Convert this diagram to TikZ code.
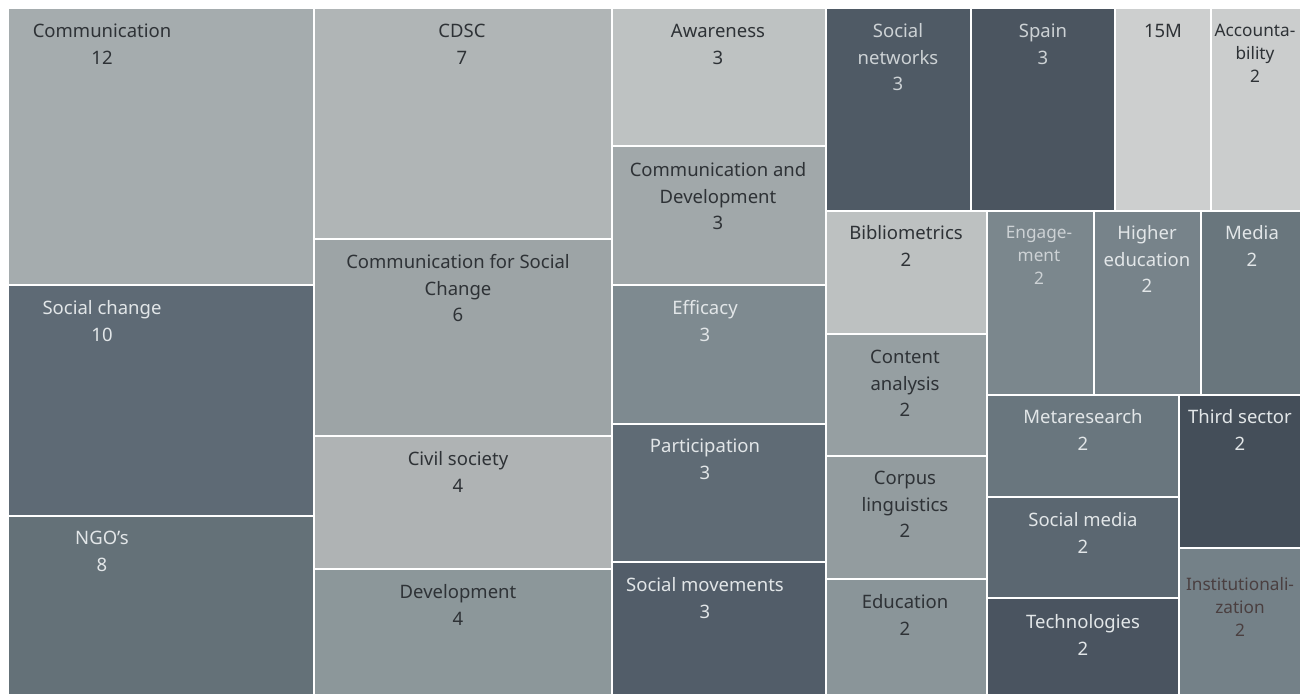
\documentclass[tikz,border=0pt]{standalone}
\usepackage{fontspec}
\setmainfont{Noto Sans}
\definecolor{cComm}{HTML}{A5ACAE}
\definecolor{cCDSC}{HTML}{B0B5B6}
\definecolor{cSoc}{HTML}{5E6A75}
\definecolor{cNGO}{HTML}{647178}
\definecolor{cCfSC}{HTML}{9DA4A6}
\definecolor{cCivil}{HTML}{AFB3B4}
\definecolor{cDev}{HTML}{8C979A}
\definecolor{cAware}{HTML}{BEC2C2}
\definecolor{cCD}{HTML}{A1A8AA}
\definecolor{cEff}{HTML}{7E8A90}
\definecolor{cPart}{HTML}{5F6B75}
\definecolor{cSmov}{HTML}{525D69}
\definecolor{cSnet}{HTML}{4F5A65}
\definecolor{cSpain}{HTML}{4B5560}
\definecolor{c15M}{HTML}{CDCFCF}
\definecolor{cAcc}{HTML}{CBCDCD}
\definecolor{cBib}{HTML}{BDC1C1}
\definecolor{cCont}{HTML}{969FA2}
\definecolor{cCorp}{HTML}{939C9F}
\definecolor{cEdu}{HTML}{8A9599}
\definecolor{cEng}{HTML}{7B878D}
\definecolor{cHigh}{HTML}{77838A}
\definecolor{cMedia}{HTML}{69767D}
\definecolor{cMeta}{HTML}{69767E}
\definecolor{cSmed}{HTML}{5B6771}
\definecolor{cTech}{HTML}{4A5460}
\definecolor{cThird}{HTML}{444E59}
\definecolor{cInst}{HTML}{748188}
\definecolor{txtdark}{HTML}{2E3236}
\definecolor{txtlight}{HTML}{E2E6E8}
\definecolor{txtdim}{HTML}{CDD2D5}
\definecolor{txtbrown}{HTML}{4A3F40}
\newcommand\fstrut[1]{\rule{0pt}{#1pt}}
\begin{document}
\begin{tikzpicture}[x=1pt,y=-1pt,
  cell/.style={draw=white,line width=1.6pt},
  lbl/.style={anchor=north,inner sep=0pt,align=center,font=\fontsize{18.5}{26.5}\selectfont},
  sm/.style={font=\fontsize{17.2}{23}\selectfont},
  dk/.style={text=txtdark},
  lt/.style={text=txtlight},
  dim/.style={text=txtdim}]
\useasboundingbox[fill=white] (0,0) rectangle (1307,695);
% column 1
\draw[cell,fill=cComm] (8,8) rectangle (314,285);
\node[lbl,dk] (comm) at (102,8) {\fstrut{29.5}Communication\\12};
\draw[cell,fill=cSoc] (8,285) rectangle (314,516);
\node[lbl,lt] (socchange) at (102,285) {\fstrut{29.5}Social change\\10};
\draw[cell,fill=cNGO] (8,516) rectangle (314,695);
\node[lbl,lt] (ngo) at (102,516) {\fstrut{28.5}NGO’s\\8};
% column 2
\draw[cell,fill=cCDSC] (314,8) rectangle (612,239);
\node[lbl,dk] (cdsc) at (462,8) {\fstrut{29.5}CDSC\\7};
\draw[cell,fill=cCfSC] (314,239) rectangle (612,436);
\node[lbl,dk] (cfsc) at (458,239) {\fstrut{29.5}Communication for Social\\Change\\6};
\draw[cell,fill=cCivil] (314,436) rectangle (612,569);
\node[lbl,dk] (civil) at (458,436) {\fstrut{29.5}Civil society\\4};
\draw[cell,fill=cDev] (314,569) rectangle (612,695);
\node[lbl,dk] (dev) at (458,569) {\fstrut{29.5}Development\\4};
% column 3
\draw[cell,fill=cAware] (612,8) rectangle (826,146);
\node[lbl,dk] (aware) at (718,8) {\fstrut{29.5}Awareness\\3};
\draw[cell,fill=cCD] (612,146) rectangle (826,285);
\node[lbl,dk] (commdev) at (718,146) {\fstrut{30.5}Communication and\\Development\\3};
\draw[cell,fill=cEff] (612,285) rectangle (826,424);
\node[lbl,lt] (eff) at (705,285) {\fstrut{29.5}Efficacy\\3};
\draw[cell,fill=cPart] (612,424) rectangle (826,562);
\node[lbl,lt] (part) at (705,424) {\fstrut{28.5}Participation\\3};
\draw[cell,fill=cSmov] (612,562) rectangle (826,695);
\node[lbl,lt] (smov) at (705,562) {\fstrut{29.5}Social movements\\3};
% column 4, top row
\draw[cell,fill=cSnet] (826,8) rectangle (971,211);
\node[lbl,dim] (snet) at (898,8) {\fstrut{29.5}Social\\networks\\3};
\draw[cell,fill=cSpain] (971,8) rectangle (1115,211);
\node[lbl,dim] (spain) at (1043,8) {\fstrut{29.5}Spain\\3};
\draw[cell,fill=c15M] (1115,8) rectangle (1211,211);
\node[lbl,dk] (m15) at (1163,8) {\fstrut{29.5}15M};
\draw[cell,fill=cAcc] (1211,8) rectangle (1301,211);
\node[lbl,sm,dk] (acc) at (1255,8) {\fstrut{28}Accounta-\\bility\\2};
% column 4, left sub-column
\draw[cell,fill=cBib] (826,211) rectangle (987,334);
\node[lbl,dk] (bib) at (906,211) {\fstrut{28.5}Bibliometrics\\2};
\draw[cell,fill=cCont] (826,334) rectangle (987,456);
\node[lbl,dk] (cont) at (905,334) {\fstrut{29.5}Content\\analysis\\2};
\draw[cell,fill=cCorp] (826,456) rectangle (987,579);
\node[lbl,dk] (corp) at (905,456) {\fstrut{28.5}Corpus\\linguistics\\2};
\draw[cell,fill=cEdu] (826,579) rectangle (987,695);
\node[lbl,dk] (edu) at (905,579) {\fstrut{29.5}Education\\2};
% column 4, right part
\draw[cell,fill=cEng] (987,211) rectangle (1094,395);
\node[lbl,sm,dim] (eng) at (1039,211) {\fstrut{27.5}Engage-\\ment\\2};
\draw[cell,fill=cHigh] (1094,211) rectangle (1201,395);
\node[lbl,lt] (high) at (1147,211) {\fstrut{28.5}Higher\\education\\2};
\draw[cell,fill=cMedia] (1201,211) rectangle (1301,395);
\node[lbl,lt] (media) at (1252,211) {\fstrut{28.5}Media\\2};
\draw[cell,fill=cMeta] (987,395) rectangle (1179,497);
\node[lbl,lt] (meta) at (1083,395) {\fstrut{28.5}Metaresearch\\2};
\draw[cell,fill=cSmed] (987,497) rectangle (1179,598);
\node[lbl,lt] (smed) at (1083,497) {\fstrut{29.5}Social media\\2};
\draw[cell,fill=cTech] (987,598) rectangle (1179,695);
\node[lbl,lt] (tech) at (1083,598) {\fstrut{30.5}Technologies\\2};
\draw[cell,fill=cThird] (1179,395) rectangle (1301,548);
\node[lbl,lt] (third) at (1240,395) {\fstrut{28.5}Third sector\\2};
\draw[cell,fill=cInst] (1179,548) rectangle (1301,695);
\node[lbl,sm,text=txtbrown] (inst) at (1240,548) {\fstrut{42.5}Institutionali-\\zation\\2};
\end{tikzpicture}
\end{document}
